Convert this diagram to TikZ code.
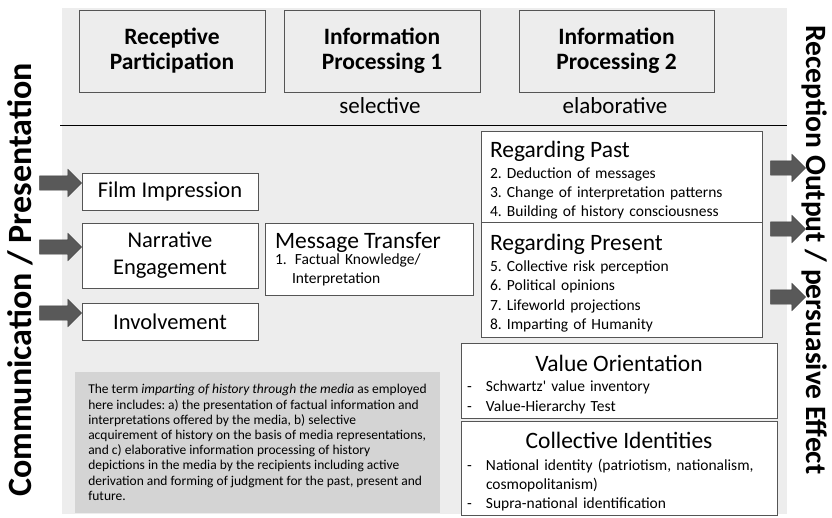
\documentclass[tikz,border=0pt]{standalone}
\usepackage{fontspec}
\setmainfont{Carlito}
\usetikzlibrary{shapes.arrows}
\frenchspacing
\definecolor{panelg}{RGB}{237,237,237}
\definecolor{noteg}{RGB}{212,212,212}
\definecolor{frameg}{RGB}{85,85,85}
\definecolor{arrowg}{RGB}{89,89,89}
\newcommand{\bxhead}[1]{{\fontsize{23.5}{23.5}\selectfont #1}}
\newcommand{\topstrut}{\rule{0pt}{24pt}}
\newcommand{\dashitem}[1]{\makebox[19pt][l]{-}#1}
\tikzset{
  stage/.style={draw=frameg,inner sep=0pt,align=center,minimum height=82pt,font=\fontsize{23.5}{25}\selectfont\bfseries},
  sublbl/.style={inner sep=0pt,font=\fontsize{23}{26}\selectfont},
  effbox/.style={draw=frameg,fill=white,inner sep=0pt,align=center,minimum width=176pt,font=\fontsize{22.5}{27}\selectfont},
  listbox/.style={draw=frameg,fill=white,inner ysep=0pt,align=left,font=\fontsize{15.5}{19.3}\selectfont},
  notebox/.style={fill=noteg,inner sep=0pt,align=left,font=\fontsize{13.5}{15.2}\selectfont},
  blockarr/.style={single arrow,fill=arrowg,draw=black!75,inner xsep=0pt,inner ysep=7pt,minimum width=27pt,single arrow head extend=6.5pt},
  sidetxt/.style={inner sep=0pt,font=\bfseries},
}

\begin{document}
\begin{tikzpicture}[x=1pt,y=-1pt]
\useasboundingbox (0,0) rectangle (832,517);
\fill[panelg] (62,8) rectangle (787,514);
\draw[line width=0.8pt] (60,125) -- (787,125);
% stages
\node[stage,minimum width=186pt] (recep) at (172,51) {Receptive\\Participation};
\node[stage,minimum width=196pt] (ipa) at (382,51) {Information\\Processing 1};
\node[stage,minimum width=195pt] (ipb) at (616.5,51) {Information\\Processing 2};
\node[sublbl] (sel) at (380,106) {selective};
\node[sublbl] (elab) at (615,106) {elaborative};
% left column
\node[effbox,minimum height=37pt] (film) at (170,191.5) {Film Impression};
\node[effbox,minimum height=65pt] (narr) at (170,255.5) {Narrative\\Engagement};
\node[effbox,minimum height=37pt] (invo) at (170,321.5) {Involvement};
\node[listbox,minimum width=208pt,minimum height=72pt,inner xsep=10pt,text width=188pt] (msg) at (369,259)
  {\bxhead{Message Transfer}\\[-2.8pt]
   \makebox[20pt][l]{1.}Factual Knowledge/\\[-0.8pt]
   \hspace*{17pt}Interpretation};
% right column
\node[listbox,minimum width=281pt,minimum height=91pt,inner xsep=9pt,text width=263pt] (past) at (621.5,176.5)
  {\topstrut\bxhead{Regarding Past}\\[1.5pt]
   2. Deduction of messages\\
   3. Change of interpretation patterns\\
   4. Building of history consciousness};
\node[listbox,minimum width=281pt,minimum height=115pt,inner xsep=9pt,text width=263pt] (pres) at (621.5,279.5)
  {\topstrut\bxhead{Regarding Present}\\[1.5pt]
   5. Collective risk perception\\
   6. Political opinions\\
   7. Lifeworld projections\\
   8. Imparting of Humanity};
\node[listbox,minimum width=316pt,minimum height=75pt,inner xsep=6pt,text width=304pt] (valor) at (619,380.5)
  {\topstrut\makebox[\linewidth]{\bxhead{Value Orientation}}\\[1pt]
   \dashitem{Schwartz\textquotesingle\ value inventory}\\
   \dashitem{Value-Hierarchy Test}};
\node[listbox,minimum width=316pt,minimum height=94pt,inner xsep=6pt,text width=304pt] (colid) at (619,468)
  {\topstrut\makebox[\linewidth]{\bxhead{Collective Identities}}\\[2pt]
   \dashitem{National identity (patriotism, nationalism,}\\
   \hspace*{19pt}cosmopolitanism)\\
   \dashitem{Supra-national identification}};
% note
\node[notebox,minimum width=365pt,minimum height=141pt] (note) at (257.5,442.5)
  {The term \textit{imparting of history through the media} as employed\\
   here includes: a) the presentation of factual information and\\
   interpretations offered by the media, b) selective\\
   acquirement of history on the basis of media representations,\\
   and c) elaborative information processing of history\\
   depictions in the media by the recipients including active\\
   derivation and forming of judgment for the past, present and\\
   future.};
% arrows in and out
\node[blockarr,minimum height=42pt] (ain1) at (57,183) {};
\node[blockarr,minimum height=42pt] (ain2) at (57,247) {};
\node[blockarr,minimum height=42pt] (ain3) at (57,313) {};
\node[blockarr,minimum height=35pt] (aout1) at (784.5,168) {};
\node[blockarr,minimum height=35pt] (aout2) at (784.5,229) {};
\node[blockarr,minimum height=35pt] (aout3) at (784.5,297) {};
% side labels
\node[sidetxt,rotate=90,font=\fontsize{34}{38}\selectfont\bfseries] (comm) at (20,280) {Communication / Presentation};
\node[sidetxt,rotate=-90,font=\fontsize{29.5}{34}\selectfont\bfseries] (recout) at (815,250) {Reception Output / persuasive Effect};
\end{tikzpicture}
\end{document}
